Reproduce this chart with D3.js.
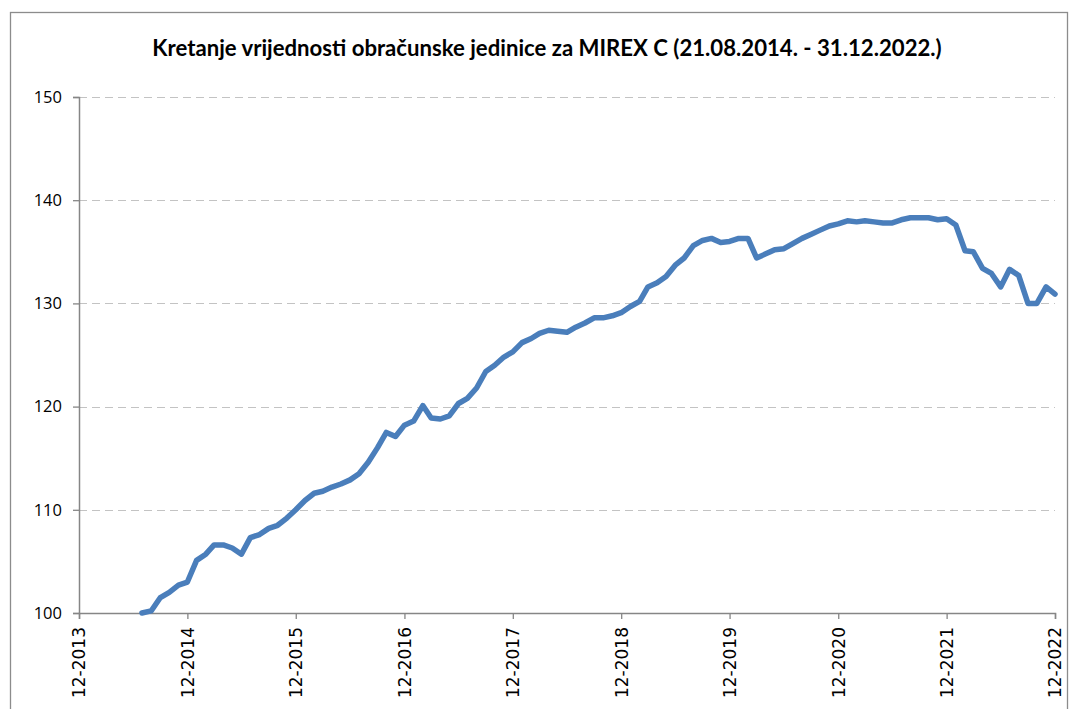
<!DOCTYPE html>
<html>
<head>
<meta charset="utf-8">
<script src="https://cdn.jsdelivr.net/npm/d3@7"></script>
<style>
  html, body { margin: 0; padding: 0; background: #ffffff; }
  svg { display: block; }
</style>
</head>
<body>
<svg id="chart" width="1070" height="709"></svg>
<script>
// ---- data ----
const title = "Kretanje vrijednosti obračunske jedinice za MIREX C (21.08.2014. - 31.12.2022.)";
const startMonth = "07-2014";
const values = [
  100.0, 100.2, 101.5, 102.0, 102.7, 103.0, 105.1, 105.7, 106.6, 106.6,
  106.3, 105.7, 107.3, 107.6, 108.2, 108.5, 109.2, 110.0, 110.9, 111.6,
  111.8, 112.2, 112.5, 112.9, 113.5, 114.6, 116.0, 117.5, 117.1, 118.2,
  118.6, 120.1, 118.9, 118.8, 119.1, 120.3, 120.8, 121.8, 123.4, 124.0,
  124.8, 125.3, 126.2, 126.6, 127.1, 127.4, 127.3, 127.2, 127.7, 128.1,
  128.6, 128.6, 128.8, 129.1, 129.7, 130.2, 131.6, 132.0, 132.6, 133.7,
  134.4, 135.6, 136.1, 136.3, 135.9, 136.0, 136.3, 136.3, 134.4, 134.8,
  135.2, 135.3, 135.8, 136.3, 136.7, 137.1, 137.5, 137.7, 138.0, 137.9,
  138.0, 137.9, 137.8, 137.8, 138.1, 138.3, 138.3, 138.3, 138.1, 138.2,
  137.6, 135.1, 135.0, 133.4, 132.9, 131.6, 133.3, 132.7, 130.0, 130.0,
  131.6, 130.9
];
const xTickLabels = ["12-2013","12-2014","12-2015","12-2016","12-2017","12-2018","12-2019","12-2020","12-2021","12-2022"];
const yTicks = [100, 110, 120, 130, 140, 150];

// ---- build ----
const parseM = d3.timeParse("%m-%Y");
const fmtM = d3.timeFormat("%m-%Y");
const start = parseM(startMonth);
const series = values.map((v, i) => ({ date: d3.timeMonth.offset(start, i), value: v }));
const xTickDates = xTickLabels.map(parseM);

const svg = d3.select("#chart");
const plot = { left: 79, right: 1055, top: 97, bottom: 613 };

// outer border
svg.append("rect")
  .attr("x", 10.5).attr("y", 12.5)
  .attr("width", 1057).attr("height", 720)
  .attr("fill", "none").attr("stroke", "#8c8c8c").attr("stroke-width", 1.3);

const x = d3.scaleTime()
  .domain([xTickDates[0], xTickDates[xTickDates.length - 1]])
  .range([plot.left, plot.right]);
const y = d3.scaleLinear()
  .domain([100, 150])
  .range([plot.bottom, plot.top]);

// title
const t = svg.append("text")
  .attr("x", 547).attr("y", 56)
  .attr("text-anchor", "middle")
  .attr("font-family", "Lato, 'Open Sans', sans-serif")
  .attr("font-weight", "bold")
  .attr("font-size", 18)
  .attr("fill", "#000")
  .text(title);
const tw = t.node().getComputedTextLength();
t.attr("font-size", 18 * 790 / tw);

// gridlines
svg.append("g")
  .selectAll("line")
  .data(yTicks.filter(d => d !== 100))
  .join("line")
  .attr("x1", plot.left).attr("x2", plot.right)
  .attr("y1", d => Math.round(y(d)) + 0.5).attr("y2", d => Math.round(y(d)) + 0.5)
  .attr("stroke", "#c3c3c3").attr("stroke-width", 1.2)
  .attr("stroke-dasharray", "8,5");

// y axis
const yAxis = svg.append("g")
  .attr("transform", `translate(${plot.left},0)`)
  .call(d3.axisLeft(y).tickValues(yTicks).tickSize(6).tickPadding(11).tickFormat(d3.format("d")));
yAxis.select(".domain").attr("stroke", "#868686").attr("stroke-width", 1.5);
yAxis.selectAll(".tick line").attr("stroke", "#868686").attr("stroke-width", 1.3);
yAxis.selectAll(".tick text")
  .attr("font-family", "'Open Sans', 'Liberation Sans', sans-serif")
  .attr("font-size", 16.5).attr("fill", "#000");

// x axis
const xAxis = svg.append("g")
  .attr("transform", `translate(0,${plot.bottom})`)
  .call(d3.axisBottom(x).tickValues(xTickDates).tickSize(6).tickFormat(fmtM));
xAxis.select(".domain").attr("stroke", "#868686").attr("stroke-width", 1.5);
xAxis.selectAll(".tick line").attr("stroke", "#868686").attr("stroke-width", 1.3);
xAxis.selectAll(".tick text")
  .attr("font-family", "'DejaVu Sans', sans-serif")
  .attr("font-size", 17).attr("fill", "#000")
  .attr("text-anchor", "end")
  .attr("dy", "0.35em")
  .attr("transform", "translate(0,14) rotate(-90)")
  .attr("x", 0).attr("y", 0);

// line
const line = d3.line().x(d => x(d.date)).y(d => y(d.value));
svg.append("path")
  .datum(series)
  .attr("d", line)
  .attr("fill", "none")
  .attr("stroke", "#4a7ebb")
  .attr("stroke-width", 5.5)
  .attr("stroke-linejoin", "round")
  .attr("stroke-linecap", "round");
</script>
</body>
</html>
